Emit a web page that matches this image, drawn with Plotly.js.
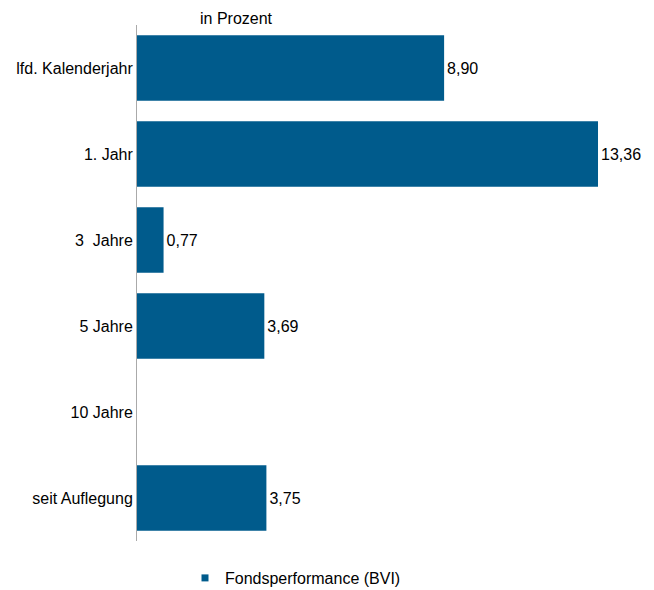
<!DOCTYPE html>
<html>
<head>
<meta charset="utf-8">
<script src="https://cdn.plot.ly/plotly-3.0.1.min.js"></script>
<style>html,body{margin:0;padding:0;background:#fff;}#chart{width:654px;height:590px;}</style>
</head>
<body>
<div id="chart"></div>
<script>
const categories = ["lfd. Kalenderjahr", "1. Jahr", "3\u00a0 Jahre", "5 Jahre", "10 Jahre", "seit Auflegung"];
const values = [8.90, 13.36, 0.77, 3.69, null, 3.75];
const seriesName = "Fondsperformance (BVI)";
const barColor = "#005b8c";

const labels = values.map(v => v === null ? "" : v.toFixed(2).replace(".", ","));

const traces = [
  {
    type: "bar",
    orientation: "h",
    y: categories,
    x: values,
    text: labels,
    textposition: "outside",
    cliponaxis: false,
    textfont: {family: "Liberation Sans, Arial, sans-serif", size: 16, color: "#000"},
    marker: {color: barColor},
    showlegend: false,
    hoverinfo: "x+y"
  },
  {
    type: "scatter",
    mode: "markers",
    x: [null],
    y: [null],
    name: seriesName,
    marker: {symbol: "square", size: 7, color: barColor},
    showlegend: true
  }
];

const layout = {
  width: 654,
  height: 590,
  margin: {l: 137, r: 17, t: 25, b: 49, autoexpand: false},
  paper_bgcolor: "#fff",
  plot_bgcolor: "#fff",
  font: {family: "Liberation Sans, Arial, sans-serif", size: 16, color: "#000"},
  title: {
    text: "in Prozent",
    x: 200/654, xanchor: "left", xref: "container",
    y: 1 - 18/590, yanchor: "middle", yref: "container",
    font: {size: 16, color: "#000"}
  },
  bargap: 0.24,
  xaxis: {
    range: [0, 14.49],
    showgrid: false, zeroline: false, showline: false,
    showticklabels: false, ticks: ""
  },
  yaxis: {
    autorange: "reversed",
    type: "category",
    showgrid: false, zeroline: false,
    showline: true, linecolor: "#aaaaaa", linewidth: 1,
    ticks: "", ticklen: 0,
    tickfont: {size: 16, color: "#000"}
  },
  showlegend: true,
  legend: {
    orientation: "h",
    x: 48/500, xanchor: "left",
    y: -37/516, yanchor: "middle",
    font: {size: 16, color: "#000"}
  }
};

Plotly.newPlot("chart", traces, layout, {displayModeBar: false, staticPlot: true});
</script>
</body>
</html>
